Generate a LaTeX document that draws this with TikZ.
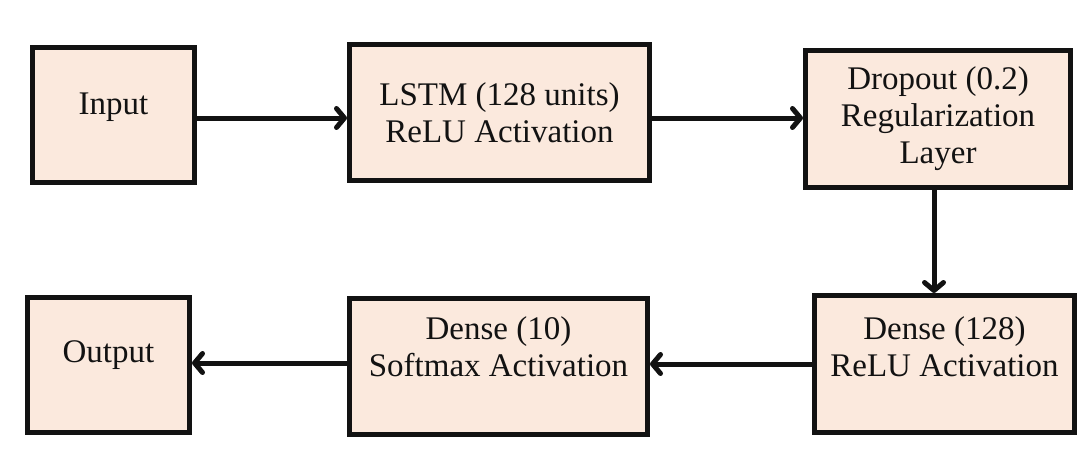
\documentclass[tikz,border=0pt]{standalone}
\usepackage{fontspec}
\setmainfont{Liberation Serif}
\usetikzlibrary{arrows.meta}
\definecolor{boxfill}{RGB}{251,233,221}
\definecolor{ink}{RGB}{18,18,18}
\tikzset{
  layerbox/.style={draw=ink, fill=boxfill, line width=5pt, rectangle,
    inner sep=0pt, line join=miter},
  layertext/.style={text=ink, align=center, inner sep=0pt,
    font=\fontsize{33}{37}\selectfont},
  flow/.style={draw=ink, line width=5pt,
    -{Straight Barb[length=8pt,width=19pt,line cap=round,line join=round]}}
}
\begin{document}
\begin{tikzpicture}[x=1pt,y=-1pt]
  \useasboundingbox (0,0) rectangle (1081,450);

  % layer boxes
  \node[layerbox, minimum width=162pt, minimum height=135pt] (input)   at (113.5,115)   {};
  \node[layerbox, minimum width=300pt, minimum height=136pt] (lstm)    at (499.5,112.5) {};
  \node[layerbox, minimum width=265pt, minimum height=137pt] (dropout) at (938,119)     {};
  \node[layerbox, minimum width=260pt, minimum height=137pt] (dense1)  at (944.5,364)   {};
  \node[layerbox, minimum width=298pt, minimum height=136pt] (dense2)  at (498.5,366.5) {};
  \node[layerbox, minimum width=162pt, minimum height=135pt] (output)  at (108.5,365)   {};

  % layer captions
  \node[layertext] (inputtxt)   at ([yshift=7.5pt]input.center)  {Input};
  \node[layertext] (lstmtxt)    at (lstm.center)                 {LSTM (128 units)\\ReLU Activation};
  \node[layertext] (dropouttxt) at (dropout.center)              {Dropout (0.2)\\Regularization\\Layer};
  \node[layertext] (dense1txt)  at ([yshift=17pt]dense1.center)  {Dense (128)\\ReLU Activation};
  \node[layertext] (dense2txt)  at ([yshift=19.5pt]dense2.center){Dense (10)\\Softmax Activation};
  \node[layertext] (outputtxt)  at ([yshift=9.5pt]output.center) {Output};

  % data flow
  \draw[flow] ([yshift=-3pt]input.east) -- ([yshift=-3pt]input.east -| lstm.west);
  \draw[flow] ([yshift=-5.5pt]lstm.east) -- ([yshift=-5.5pt]lstm.east -| dropout.west);
  \draw[flow] ([xshift=-4pt]dropout.south) -- ([xshift=-4pt]dropout.south |- dense1.north);
  \draw[flow] (dense1.west) -- (dense1.west -| dense2.east);
  \draw[flow] ([yshift=3.5pt]dense2.west) -- ([yshift=3.5pt]dense2.west -| output.east);
\end{tikzpicture}
\end{document}
